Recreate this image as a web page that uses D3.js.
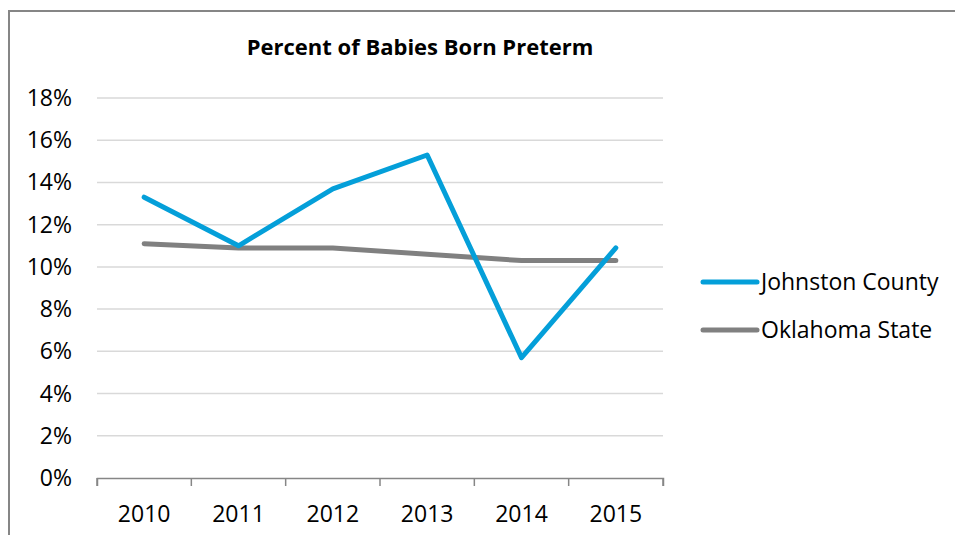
<!DOCTYPE html>
<html>
<head>
<meta charset="utf-8">
<script src="https://cdn.jsdelivr.net/npm/d3@7"></script>
<style>
  body { margin: 0; background: #fff; }
  svg { display: block; font-family: "Open Sans", "Liberation Sans", sans-serif; }
</style>
</head>
<body>
<div id="chart"></div>
<script>
const years = ['2010', '2011', '2012', '2013', '2014', '2015'];
const johnston = [13.3, 11.0, 13.7, 15.3, 5.7, 10.9];
const oklahoma = [11.1, 10.9, 10.9, 10.6, 10.3, 10.3];
const yTicks = [0, 2, 4, 6, 8, 10, 12, 14, 16, 18];
const seriesNames = ['Johnston County', 'Oklahoma State'];
const seriesColors = ['#049fd9', '#808080'];

const width = 955,
      height = 535,
      margin = {top: 98, left: 97, bottom: 57, right: 292},
      fontSize = 23;

const svg = d3.select('#chart')
  .append('svg')
  .attr('width', width)
  .attr('height', height);

// chart frame
svg.append('rect')
  .attr('x', 9)
  .attr('y', 11)
  .attr('width', width)
  .attr('height', height)
  .attr('fill', 'none')
  .attr('stroke', '#868686')
  .attr('stroke-width', 2);

const x = d3.scaleBand()
  .domain(years)
  .range([margin.left, width - margin.right]);

const y = d3.scaleLinear()
  .domain([0, 18])
  .range([height - margin.bottom, margin.top]);

// gridlines
svg.append('g')
  .selectAll('line')
  .data(yTicks.filter(d => d > 0))
  .enter()
  .append('line')
  .attr('x1', margin.left)
  .attr('x2', width - margin.right)
  .attr('y1', d => y(d))
  .attr('y2', d => y(d))
  .attr('stroke', '#d9d9d9')
  .attr('stroke-width', 1.5);

// y labels
svg.append('g')
  .selectAll('text')
  .data(yTicks)
  .enter()
  .append('text')
  .attr('x', 72)
  .attr('y', d => y(d))
  .attr('dy', '0.35em')
  .attr('text-anchor', 'end')
  .attr('font-size', fontSize)
  .attr('fill', '#000')
  .text(d => d + '%');

// x axis
const xAxis = d3.axisBottom(x)
  .tickSize(8)
  .tickSizeOuter(8)
  .tickPadding(20);

const xg = svg.append('g')
  .attr('transform', `translate(0,${y(0)})`)
  .call(xAxis);

xg.select('.domain').attr('stroke', '#868686').attr('stroke-width', 1.5);
xg.selectAll('.tick line').remove();
xg.selectAll('.tick text')
  .attr('font-size', fontSize)
  .attr('font-family', '"Open Sans", "Liberation Sans", sans-serif')
  .attr('fill', '#000');

// tick marks on band boundaries
xg.append('g')
  .selectAll('line')
  .data(years.map(d => x(d)).concat([x.range()[1]]))
  .enter()
  .append('line')
  .attr('x1', d => d)
  .attr('x2', d => d)
  .attr('y1', 0)
  .attr('y2', 8)
  .attr('stroke', '#868686')
  .attr('stroke-width', 1.5);

// lines
const line = d3.line()
  .x((d, i) => x(years[i]) + x.bandwidth() / 2)
  .y(d => y(d));

[oklahoma, johnston].forEach((series, k) => {
  const idx = k === 0 ? 1 : 0;
  svg.append('path')
    .datum(series)
    .attr('d', line)
    .attr('fill', 'none')
    .attr('stroke', seriesColors[idx])
    .attr('stroke-width', 5)
    .attr('stroke-linejoin', 'round')
    .attr('stroke-linecap', 'round');
});

// title
svg.append('text')
  .attr('x', 420)
  .attr('y', 55)
  .attr('text-anchor', 'middle')
  .attr('font-size', 22)
  .attr('font-weight', 'bold')
  .attr('fill', '#000')
  .text('Percent of Babies Born Preterm');

// legend
const legend = svg.append('g')
  .selectAll('g')
  .data(seriesNames)
  .enter()
  .append('g')
  .attr('transform', (d, i) => `translate(703,${282 + i * 48})`);

legend.append('line')
  .attr('x1', 0)
  .attr('x2', 54)
  .attr('stroke', (d, i) => seriesColors[i])
  .attr('stroke-width', 5)
  .attr('stroke-linecap', 'round');

legend.append('text')
  .attr('x', 58)
  .attr('dy', '0.35em')
  .attr('font-size', fontSize)
  .attr('fill', '#000')
  .text(d => d);
</script>
</body>
</html>
